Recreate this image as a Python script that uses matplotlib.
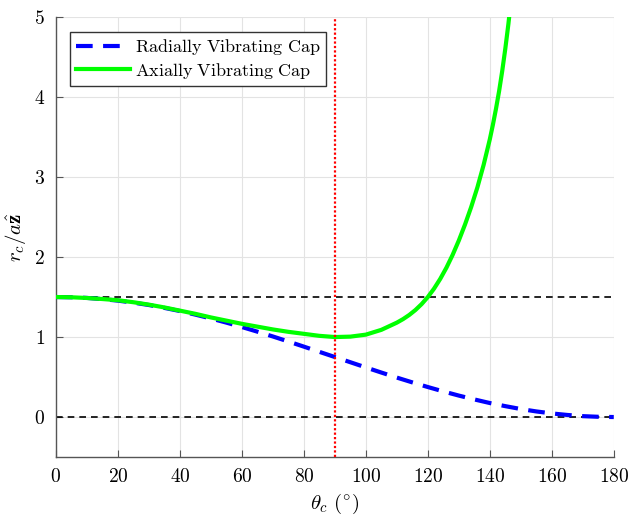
import matplotlib
matplotlib.use("Agg")
from matplotlib import pyplot as plt

# values
theta = [0, 5, 10, 15, 20, 25, 30, 35, 40, 45, 50, 55, 60, 65, 70, 75, 80, 85, 90,
         95, 100, 105, 110, 115, 120, 125, 130, 135, 140, 145, 150, 155, 160, 165,
         170, 175, 180]
radial = [1.500, 1.497, 1.489, 1.474, 1.455, 1.430, 1.400, 1.364, 1.325, 1.280,
          1.232, 1.180, 1.125, 1.067, 1.007, 0.944, 0.880, 0.815, 0.750, 0.685,
          0.620, 0.556, 0.493, 0.433, 0.375, 0.320, 0.268, 0.220, 0.175, 0.136,
          0.100, 0.070, 0.045, 0.026, 0.011, 0.003, 0.000]

theta_ax = [0, 5, 10, 15, 20, 25, 30, 35, 40, 45, 50, 55, 60, 65, 70, 75, 80, 85, 90,
            95, 100, 105, 110, 112, 114, 116, 118, 120, 122, 124, 126, 128, 130, 132,
            134, 136, 138, 140, 141, 142, 143, 144, 145, 146, 147]
axial = [1.500, 1.497, 1.488, 1.475, 1.460, 1.435, 1.405, 1.370, 1.330, 1.290,
         1.245, 1.205, 1.165, 1.130, 1.095, 1.065, 1.040, 1.015, 1.000, 1.005,
         1.030, 1.090, 1.180, 1.224, 1.276, 1.338, 1.412, 1.500, 1.605, 1.727,
         1.867, 2.027, 2.207, 2.407, 2.627, 2.872, 3.152, 3.472, 3.655, 3.855,
         4.075, 4.325, 4.605, 4.915, 5.265]

ref_levels = [1.5, 0.0]
cut_angle = 90
xticks = list(range(0, 181, 20))
yticks = [0, 1, 2, 3, 4, 5]

plt.rcParams["mathtext.fontset"] = "cm"
plt.rcParams["font.family"] = "serif"
plt.rcParams["font.serif"] = ["DejaVu Serif"]

fig = plt.figure(figsize=(6.31, 5.17), dpi=100)
ax = fig.add_axes([0.0887, 0.116, 0.884, 0.851])

for lvl in ref_levels:
    ax.axhline(lvl, color="black", linestyle=(0, (4, 3)), linewidth=1.2, zorder=2)
ax.axvline(cut_angle, color="red", linestyle=(0, (1, 1)), linewidth=1.6, zorder=4)

ax.plot(theta, radial, color="blue", linewidth=3, linestyle=(0, (4, 2.5)),
        label=r"$\mathrm{Radially\ Vibrating\ Cap}$", zorder=3)
ax.plot(theta_ax, axial, color="#00ff00", linewidth=3,
        label=r"$\mathrm{Axially\ Vibrating\ Cap}$", zorder=3)

ax.set_xlim(0, 180)
ax.set_ylim(-0.5, 5)
ax.set_xticks(xticks)
ax.set_yticks(yticks)
ax.set_xticklabels(["$%d$" % v for v in xticks], fontsize=14)
ax.set_yticklabels(["$%d$" % v for v in yticks], fontsize=14)
ax.set_xlabel(r"$\theta_c\ (^{\circ})$", fontsize=15)
ax.set_ylabel(r"$r_c/a\hat{\mathbf{z}}$", fontsize=15)

ax.grid(True, color="#e3e3e3", linewidth=0.8)
ax.set_axisbelow(True)
ax.spines["top"].set_visible(False)
ax.spines["right"].set_visible(False)
for s in ["left", "bottom"]:
    ax.spines[s].set_color("#555555")
    ax.spines[s].set_linewidth(1.0)
ax.tick_params(direction="in", length=5, color="#555555", pad=8)

leg = ax.legend(loc="upper left", fontsize=13, fancybox=False, framealpha=1,
                edgecolor="#333333", handlelength=3, borderaxespad=0.8,
                handletextpad=0.3, borderpad=0.3, labelspacing=0.2)
leg.get_frame().set_linewidth(1.0)

fig.savefig("out.png", dpi=100)
